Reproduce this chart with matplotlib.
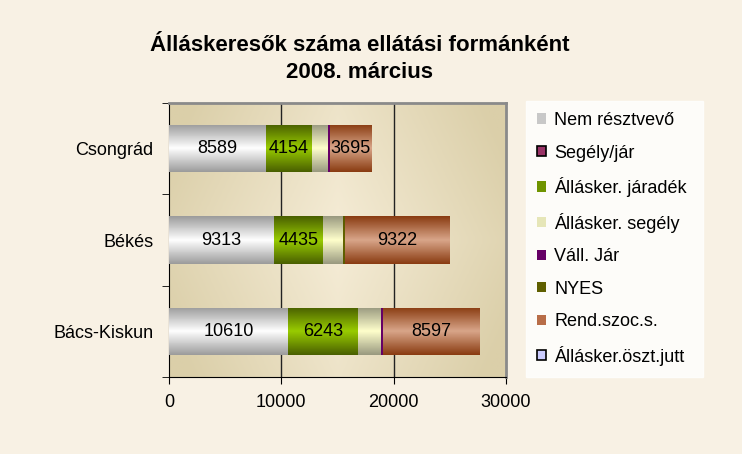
"""
Álláskeresők száma ellátási formánként - 2008. március
Stacked horizontal bar chart in the old Excel style.
"""

import matplotlib
matplotlib.use('Agg')
import matplotlib.pyplot as plt
import matplotlib.patches as mpatches
from matplotlib.colors import LinearSegmentedColormap
import numpy as np

plt.rcParams['font.family'] = ['Liberation Sans', 'DejaVu Sans']

counties = ['Bács-Kiskun', 'Békés', 'Csongrád']
legend_labels = ['Nem résztvevő', 'Segély/jár', 'Állásker. járadék', 'Állásker. segély',
                 'Váll. Jár', 'NYES', 'Rend.szoc.s.', 'Állásker.öszt.jutt']

nem_resztvevo = [10610, 9313, 8589]
segely_jar = [0, 0, 0]
jaradek = [6243, 4435, 4154]
segely = [2000, 1750, 1400]
vall_jar = [150, 20, 170]
nyes = [30, 120, 30]
rend_szoc = [8597, 9322, 3695]
oszt_jutt = [0, 0, 0]

values = [nem_resztvevo, segely_jar, jaradek, segely, vall_jar, nyes, rend_szoc, oszt_jutt]
labelled = {0, 2, 6}

# (edge colour, centre colour) for the gradient fills
colors = [('#9c9c9c', '#ffffff'),
          ('#993366', '#993366'),
          ('#4a6000', '#99cc00'),
          ('#9a9a80', '#ffffcc'),
          ('#660066', '#660066'),
          ('#5a5a00', '#666600'),
          ('#8a3c12', '#d9a68a'),
          ('#ccccff', '#ccccff')]
legend_fill = ['#c8c8c8', '#993366', '#6f9400', '#e6e6b8', '#660066', '#5f5f00', '#b86d48', '#ccccff']
legend_edge = ['none', 'black', 'none', 'none', 'none', 'none', 'none', 'black']

fig = plt.figure(figsize=(7.42, 4.54), dpi=100, facecolor='#f8f1e4')
ax = fig.add_axes([0.2278, 0.1696, 0.4542, 0.6034])

# plot area background gradient
xx = np.linspace(0, 1, 256)
yy = np.linspace(0, 1, 64)
X, Y = np.meshgrid(xx, yy)
grad = np.clip(np.abs(X - 0.5) * 1.6 + np.abs(Y - 0.5) * 0.6, 0, 1)
ax.imshow(grad, cmap=LinearSegmentedColormap.from_list('bg', ['#f5ecd6', '#dbcfa9']),
          extent=(0, 1, 0, 1), transform=ax.transAxes, aspect='auto', zorder=0)

y = np.arange(len(counties))
left = np.zeros(len(counties))
for i, vals in enumerate(values):
    vals = np.array(vals, dtype=float)
    edge, centre = colors[i]
    bars = ax.barh(y, vals, left=left, height=0.52, color=centre, edgecolor='none',
                   label=legend_labels[i], zorder=3)
    cmap = LinearSegmentedColormap.from_list('g%d' % i, [edge, centre, edge])
    for b in bars:
        if b.get_width() <= 0:
            continue
        x0, y0 = b.get_x(), b.get_y()
        im = ax.imshow(np.linspace(0, 1, 64).reshape(-1, 1), cmap=cmap, aspect='auto',
                       extent=(x0, x0 + b.get_width(), y0, y0 + b.get_height()), zorder=4)
        im.set_clip_path(b)
    if i in labelled:
        for yi, l, v in zip(y, left, vals):
            ax.text(l + v / 2, yi, f'{int(v)}', ha='center', va='center', fontsize=13,
                    color='black', zorder=6)
    left += vals

ax.set_xlim(0, 30000)
ax.set_ylim(-0.5, 2.5)
ax.set_xticks([0, 10000, 20000, 30000])
ax.tick_params(axis='x', direction='out', length=5, labelsize=13, pad=7)
ax.set_yticks(y)
ax.set_yticklabels(counties)
ax.tick_params(axis='y', which='major', length=0, labelsize=13, pad=11)
ax.set_yticks([-0.5, 0.5, 1.5, 2.5], minor=True)
ax.tick_params(axis='y', which='minor', direction='out', length=5)

for xv in [10000, 20000]:
    ax.axvline(xv, color='#222222', linewidth=1, zorder=2)

ax.spines['left'].set_color('black')
ax.spines['bottom'].set_color('black')
ax.spines['top'].set_color('#8a8a8a')
ax.spines['right'].set_color('#8a8a8a')
ax.spines['top'].set_linewidth(2)
ax.spines['right'].set_linewidth(2)

fig.text(0.485, 0.90, 'Álláskeresők száma ellátási formánként', ha='center', va='center',
         fontsize=16, fontweight='bold')
fig.text(0.485, 0.84, '2008. március', ha='center', va='center',
         fontsize=16, fontweight='bold')

handles = [mpatches.Patch(facecolor=f, edgecolor=e, linewidth=1.2)
           for f, e in zip(legend_fill, legend_edge)]
leg = fig.legend(handles, legend_labels, loc='upper left',
                 bbox_to_anchor=(0.709, 0.170, 0.238, 0.608), mode='expand',
                 frameon=True, fancybox=False, fontsize=13, handlelength=0.5, handleheight=0.5,
                 handletextpad=0.45, labelspacing=0.86, borderpad=0.62, borderaxespad=0)
leg.get_frame().set_facecolor('white')
leg.get_frame().set_edgecolor('white')

fig.savefig('out.png', dpi=100, facecolor=fig.get_facecolor())
